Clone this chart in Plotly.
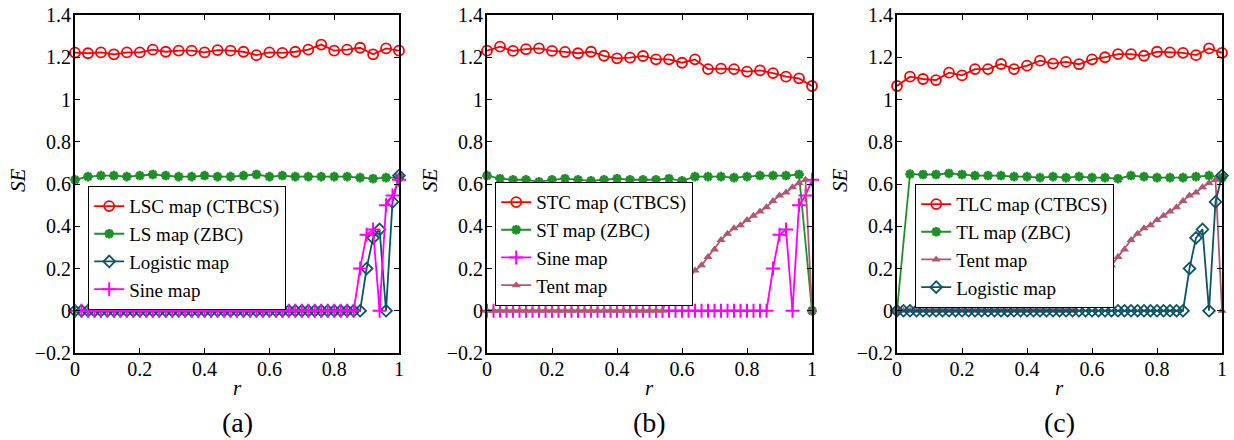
import numpy as np
import plotly.graph_objects as go

# ---------------- data ----------------
r_coarse = np.round(np.linspace(0, 1, 26), 2)   # step 0.04
r_fine = np.round(np.linspace(0, 1, 51), 2)     # step 0.02

lsc_ctbcs = [1.222, 1.219, 1.223, 1.214, 1.223, 1.223, 1.236, 1.226, 1.231, 1.231,
             1.223, 1.234, 1.231, 1.226, 1.210, 1.223, 1.221, 1.226, 1.236, 1.260,
             1.231, 1.236, 1.245, 1.214, 1.242, 1.231]
ls_zbc = [0.620, 0.635, 0.640, 0.640, 0.635, 0.640, 0.645, 0.640, 0.635, 0.635,
          0.640, 0.635, 0.635, 0.640, 0.645, 0.635, 0.640, 0.635, 0.635, 0.635,
          0.635, 0.635, 0.630, 0.625, 0.630, 0.630]

stc_ctbcs = [1.231, 1.250, 1.230, 1.238, 1.242, 1.230, 1.225, 1.219, 1.226, 1.207,
             1.195, 1.198, 1.206, 1.190, 1.190, 1.174, 1.190, 1.144, 1.146, 1.144,
             1.132, 1.138, 1.125, 1.108, 1.100, 1.064]
st_zbc = [0.640, 0.625, 0.620, 0.620, 0.610, 0.620, 0.625, 0.620, 0.615, 0.620,
          0.625, 0.620, 0.620, 0.620, 0.625, 0.615, 0.635, 0.635, 0.635, 0.630,
          0.635, 0.640, 0.640, 0.640, 0.645, 0.000]

tlc_ctbcs = [1.064, 1.108, 1.097, 1.092, 1.127, 1.114, 1.144, 1.144, 1.168, 1.144,
             1.160, 1.184, 1.170, 1.178, 1.167, 1.190, 1.200, 1.215, 1.215, 1.207,
             1.226, 1.223, 1.221, 1.210, 1.242, 1.221]
tl_zbc = [0.000, 0.647, 0.645, 0.645, 0.650, 0.645, 0.640, 0.640, 0.640, 0.635,
          0.635, 0.630, 0.635, 0.630, 0.635, 0.630, 0.630, 0.625, 0.640, 0.635,
          0.630, 0.630, 0.630, 0.635, 0.640, 0.630]

logistic = [0.0] * 45 + [0.200, 0.345, 0.385, 0.000, 0.515, 0.640]
sine = [0.0] * 44 + [0.200, 0.360, 0.385, 0.000, 0.500, 0.545, 0.620]
tent = [0.0] * 28 + [0.085, 0.055, 0.115, 0.155, 0.190, 0.215, 0.255, 0.290, 0.335,
                     0.365, 0.390, 0.405, 0.430, 0.450, 0.470, 0.490, 0.520, 0.545,
                     0.560, 0.585, 0.605, 0.620, 0.000]

x_ticks = [0, 0.2, 0.4, 0.6, 0.8, 1]
y_ticks = [-0.2, 0, 0.2, 0.4, 0.6, 0.8, 1, 1.2, 1.4]
captions = ["(a)", "(b)", "(c)"]

# ---------------- styles ----------------
FONT = "Times"
RED = "#ff0000"
GREEN = "#1f8f2a"
TEAL = "#0c5568"
MAGENTA = "#ff00ff"
ROSE = "#b4566e"

def s_ctbcs(x, y, name, leg):
    return go.Scatter(x=x, y=y, name=name, legend=leg, mode="lines+markers",
                      line=dict(color=RED, width=1.8),
                      marker=dict(symbol="circle-open", size=10, color=RED,
                                  line=dict(width=1.8, color=RED)),
                      cliponaxis=False)

def s_zbc(x, y, name, leg):
    return go.Scatter(x=x, y=y, name=name, legend=leg, mode="lines+markers",
                      line=dict(color=GREEN, width=1.8),
                      marker=dict(symbol="asterisk-open", size=8, color=GREEN,
                                  line=dict(width=2.8, color=GREEN)),
                      cliponaxis=False)

def s_logistic(x, y, leg):
    return go.Scatter(x=x, y=y, name="Logistic map", legend=leg, mode="lines+markers",
                      line=dict(color=TEAL, width=1.8),
                      marker=dict(symbol="diamond-open", size=9, color=TEAL,
                                  line=dict(width=1.8, color=TEAL)),
                      cliponaxis=False)

def s_sine(x, y, leg):
    return go.Scatter(x=x, y=y, name="Sine map", legend=leg, mode="lines+markers",
                      line=dict(color=MAGENTA, width=1.8),
                      marker=dict(symbol="cross-thin-open", size=10, color=MAGENTA,
                                  line=dict(width=2, color=MAGENTA)),
                      cliponaxis=False)

def s_tent(x, y, leg):
    return go.Scatter(x=x, y=y, name="Tent map", legend=leg, mode="lines+markers",
                      line=dict(color=ROSE, width=1.8),
                      marker=dict(symbol="triangle-up", size=8, color=ROSE),
                      cliponaxis=False)

fig = go.Figure()

for t in [s_ctbcs(r_coarse, lsc_ctbcs, "LSC map (CTBCS)", "legend"),
          s_zbc(r_coarse, ls_zbc, "LS map (ZBC)", "legend"),
          s_logistic(r_fine, logistic, "legend"),
          s_sine(r_fine, sine, "legend")]:
    t.update(xaxis="x", yaxis="y")
    fig.add_trace(t)

for t in [s_ctbcs(r_coarse, stc_ctbcs, "STC map (CTBCS)", "legend2"),
          s_zbc(r_coarse, st_zbc, "ST map (ZBC)", "legend2"),
          s_sine(r_fine, sine, "legend2"),
          s_tent(r_fine, tent, "legend2")]:
    t.update(xaxis="x2", yaxis="y2")
    fig.add_trace(t)

for t in [s_ctbcs(r_coarse, tlc_ctbcs, "TLC map (CTBCS)", "legend3"),
          s_zbc(r_coarse, tl_zbc, "TL map (ZBC)", "legend3"),
          s_tent(r_fine, tent, "legend3"),
          s_logistic(r_fine, logistic, "legend3")]:
    t.update(xaxis="x3", yaxis="y3")
    fig.add_trace(t)

# the page body margin is removed by a post script, so the figure fills the window
W, H = 1234, 440

def fx(px):
    return px / W

def fy(py):
    return 1 - py / H

x_dom = [(75, 399), (487, 812), (897, 1222)]
y_top, y_bot = 15, 353
ydom = [fy(y_bot), fy(y_top)]

axis_common = dict(showline=True, linecolor="black", linewidth=2, mirror="ticks",
                   ticks="inside", ticklen=5, tickwidth=1.2, tickcolor="black",
                   showgrid=False, zeroline=False, automargin=False,
                   ticklabeloverflow="allow",
                   tickfont=dict(family=FONT, size=20, color="black"))

layout = dict(width=W, height=H,
              margin=dict(l=0, r=0, t=0, b=0, pad=0, autoexpand=False),
              plot_bgcolor="white", paper_bgcolor="white",
              font=dict(family=FONT, color="black"))

for i, (a, b) in enumerate(x_dom):
    sfx = "" if i == 0 else str(i + 1)
    layout["xaxis" + sfx] = dict(axis_common, domain=[fx(a), fx(b)], range=[0, 1],
                                 tickvals=x_ticks, anchor="y" + sfx,
                                 ticklabelstandoff=-3)
    layout["yaxis" + sfx] = dict(axis_common, domain=ydom, range=[-0.2, 1.4],
                                 tickvals=y_ticks, anchor="x" + sfx,
                                 ticklabelstandoff=-2)

leg_pos = [(88, 186), (495, 182), (915, 184)]
for i, (lx, ly) in enumerate(leg_pos):
    key = "legend" if i == 0 else "legend" + str(i + 1)
    layout[key] = dict(x=fx(lx), y=fy(ly), xanchor="left", yanchor="top",
                       bgcolor="white", bordercolor="black", borderwidth=1.2,
                       font=dict(family=FONT, size=19, color="black"),
                       tracegroupgap=0, itemwidth=30)

anns = []
for i, (a, b) in enumerate(x_dom):
    cx = fx((a + b) / 2)
    anns.append(dict(text="<i>r</i>", x=cx, y=fy(388), xref="paper", yref="paper",
                     xanchor="center", yanchor="middle",
                     showarrow=False, font=dict(family=FONT, size=21, color="black")))
    anns.append(dict(text=captions[i], x=cx, y=fy(422), xref="paper", yref="paper",
                     xanchor="center", yanchor="middle",
                     showarrow=False, font=dict(family=FONT, size=28, color="black")))
    sx = [18, 430, 840][i]
    anns.append(dict(text="<i>SE</i>", x=fx(sx), y=fy(180), xref="paper", yref="paper",
                     xanchor="center", yanchor="middle",
                     textangle=-90, showarrow=False,
                     font=dict(family=FONT, size=21, color="black")))
layout["annotations"] = anns

fig.update_layout(**layout)
fig.write_html("out.html",
               config={"displayModeBar": False},
               post_script="document.body.style.margin='0';document.body.style.overflow='hidden';")
